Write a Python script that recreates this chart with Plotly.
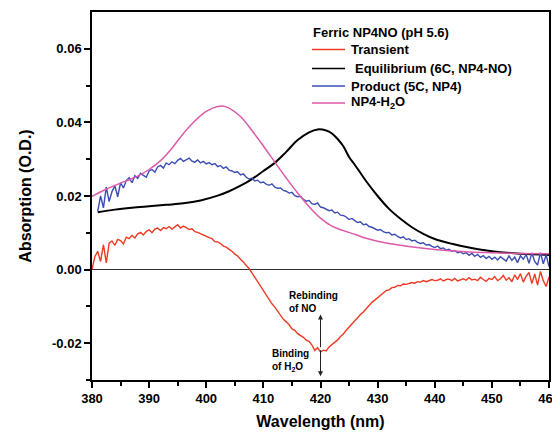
import numpy as np
import plotly.graph_objects as go

# ---------------- data ----------------
# Transient, 380-460 nm every 0.5 nm
transient = [
    0.0000, 0.0035, 0.0050, 0.0022, 0.0068, 0.0018, 0.0072, 0.0078, 0.0066, 0.0082,
    0.0079, 0.0070, 0.0088, 0.0084, 0.0093, 0.0086, 0.0097, 0.0101, 0.0094, 0.0104,
    0.0108, 0.0100, 0.0110, 0.0113, 0.0106, 0.0114, 0.0111, 0.0117, 0.0110, 0.0116,
    0.0122, 0.0113, 0.0118, 0.0114, 0.0109, 0.0111, 0.0103, 0.0101, 0.0097, 0.0095,
    0.0089, 0.0087, 0.0084, 0.0076, 0.0075, 0.0071, 0.0064, 0.0061, 0.0055, 0.0050,
    0.0042, 0.0037, 0.0028, 0.0021, 0.0011, 0.0003, -0.0009, -0.0021, -0.0034, -0.0044,
    -0.0059, -0.0068, -0.0081, -0.0093, -0.0102, -0.0114, -0.0123, -0.0135, -0.0142, -0.0150,
    -0.0161, -0.0165, -0.0174, -0.0179, -0.0184, -0.0192, -0.0195, -0.0205, -0.0220, -0.0212,
    -0.0224, -0.0219, -0.0221, -0.0210, -0.0204, -0.0198, -0.0191, -0.0182, -0.0175, -0.0165,
    -0.0156, -0.0148, -0.0138, -0.0132, -0.0122, -0.0115, -0.0106, -0.0098, -0.0089, -0.0083,
    -0.0076, -0.0069, -0.0064, -0.0057, -0.0055, -0.0049, -0.0048, -0.0043, -0.0044, -0.0039,
    -0.0040, -0.0038, -0.0035, -0.0037, -0.0033, -0.0034, -0.0030, -0.0033, -0.0031, -0.0027,
    -0.0030, -0.0029, -0.0025, -0.0031, -0.0027, -0.0026, -0.0030, -0.0024, -0.0031, -0.0027,
    -0.0025, -0.0029, -0.0022, -0.0028, -0.0026, -0.0030, -0.0021, -0.0027, -0.0032, -0.0024,
    -0.0027, -0.0019, -0.0030, -0.0025, -0.0016, -0.0029, -0.0022, -0.0033, -0.0014, -0.0027,
    -0.0011, -0.0034, -0.0018, -0.0008, -0.0038, -0.0012, -0.0042, -0.0005, -0.0030, -0.0046,
    -0.0020,
]
wl_transient = np.arange(380.0, 460.01, 0.5)

# Product (5C, NP4), 381-460 nm every 0.5 nm
product = [
    0.0158, 0.0200, 0.0168, 0.0224, 0.0185, 0.0212, 0.0228, 0.0198, 0.0236, 0.0222,
    0.0242, 0.0250, 0.0236, 0.0255, 0.0248, 0.0262, 0.0256, 0.0251, 0.0268, 0.0272,
    0.0265, 0.0279, 0.0283, 0.0276, 0.0290, 0.0285, 0.0293, 0.0288, 0.0297, 0.0302,
    0.0294, 0.0299, 0.0303, 0.0295, 0.0292, 0.0298, 0.0290, 0.0294, 0.0287, 0.0291,
    0.0285, 0.0288, 0.0280, 0.0283, 0.0275, 0.0279, 0.0270, 0.0268, 0.0264, 0.0266,
    0.0257, 0.0260, 0.0251, 0.0246, 0.0249, 0.0241, 0.0243, 0.0236, 0.0238, 0.0232,
    0.0229, 0.0233, 0.0224, 0.0221, 0.0222, 0.0215, 0.0213, 0.0208, 0.0210, 0.0201,
    0.0198, 0.0199, 0.0191, 0.0186, 0.0188, 0.0179, 0.0177, 0.0181, 0.0170, 0.0168,
    0.0165, 0.0160, 0.0162, 0.0154, 0.0156, 0.0148, 0.0147, 0.0143, 0.0136, 0.0139,
    0.0133, 0.0128, 0.0130, 0.0122, 0.0124, 0.0117, 0.0115, 0.0112, 0.0107, 0.0109,
    0.0103, 0.0100, 0.0101, 0.0094, 0.0096, 0.0090, 0.0086, 0.0089, 0.0082, 0.0084,
    0.0078, 0.0080, 0.0074, 0.0071, 0.0073, 0.0067, 0.0068, 0.0063, 0.0060, 0.0064,
    0.0057, 0.0059, 0.0053, 0.0055, 0.0049, 0.0052, 0.0046, 0.0048, 0.0043, 0.0046,
    0.0039, 0.0044, 0.0036, 0.0041, 0.0033, 0.0038, 0.0030, 0.0036, 0.0028, 0.0034,
    0.0026, 0.0035, 0.0030, 0.0023, 0.0037, 0.0025, 0.0034, 0.0019, 0.0038, 0.0028,
    0.0041, 0.0017, 0.0045, 0.0022, 0.0012, 0.0046, 0.0016, 0.0040, 0.0008,
]
wl_product = np.arange(381.0, 460.01, 0.5)

wl_equilibrium = [381, 384, 387, 390, 393, 396, 399, 402, 404, 406, 408, 410, 412, 414,
                  416, 418, 419.5, 421, 422, 423, 424, 425, 426, 428, 430, 432, 434,
                  436, 438, 440, 443, 446, 450, 455, 460]
equilibrium = [0.0156, 0.0163, 0.0168, 0.0172, 0.0176, 0.0180, 0.0188, 0.0201, 0.0213,
               0.0228, 0.0246, 0.0268, 0.0290, 0.0320, 0.0352, 0.0373, 0.0381, 0.0378,
               0.0370, 0.0355, 0.0335, 0.0306, 0.0285, 0.0240, 0.0200, 0.0165, 0.0138,
               0.0115, 0.0097, 0.0083, 0.0070, 0.0060, 0.0050, 0.0043, 0.0040]

wl_h2o = [380, 382, 384, 386, 388, 390, 392, 394, 396, 398, 400, 402, 403, 404, 406,
          408, 410, 412, 414, 416, 418, 420, 422, 424, 426, 428, 430, 434, 438, 442,
          446, 450, 455, 460]
h2o = [0.0199, 0.0215, 0.0229, 0.0241, 0.0254, 0.0272, 0.0296, 0.0330, 0.0370, 0.0404,
       0.0430, 0.0443, 0.0444, 0.0439, 0.0416, 0.0378, 0.0336, 0.0292, 0.0249, 0.0208,
       0.0171, 0.0140, 0.0118, 0.0106, 0.0096, 0.0085, 0.0077, 0.0066, 0.0058, 0.0052,
       0.0048, 0.0046, 0.0044, 0.0043]

series_names = ["Transient", "Equilibrium (6C, NP4-NO)", "Product (5C, NP4)", "NP4-H<sub>2</sub>O"]
legend_title = "Ferric NP4NO (pH 5.6)"
x_ticks = [380, 390, 400, 410, 420, 430, 440, 450, 460]
y_ticks = [-0.02, 0.00, 0.02, 0.04, 0.06]
y_tick_labels = ["-0.02", "0.00", "0.02", "0.04", "0.06"]

assert len(transient) == len(wl_transient)
assert len(product) == len(wl_product)

# ---------------- figure ----------------
FONT = "Liberation Sans, Arial, sans-serif"
RED = "#ee3a22"
BLUE = "#3a4db5"
PINK = "#dd5aaa"
COLORS = [RED, "black", BLUE, PINK]

# the page body has an 8px margin, so the figure is 8px smaller each way
W, H = 552, 424
ML, MR, MT, MB = 84, 11, 4, 52
PW, PH = W - ML - MR, H - MT - MB
PAGE_L, PAGE_T = 92, 12  # plot-area corner in page pixels


def px(xp):
    return (xp - PAGE_L) / PW


def py(yp):
    return 1 - (yp - PAGE_T) / PH


fig = go.Figure()
fig.add_trace(go.Scatter(x=wl_transient, y=transient, mode="lines",
                         name=series_names[0], line=dict(color=RED, width=1.4)))
fig.add_trace(go.Scatter(x=wl_equilibrium, y=equilibrium, mode="lines",
                         name=series_names[1],
                         line=dict(color="black", width=2, shape="spline")))
fig.add_trace(go.Scatter(x=wl_product, y=product, mode="lines",
                         name=series_names[2], line=dict(color=BLUE, width=1.4)))
fig.add_trace(go.Scatter(x=wl_h2o, y=h2o, mode="lines",
                         name=series_names[3],
                         line=dict(color=PINK, width=1.5, shape="spline")))

axis_common = dict(
    showline=True, linecolor="black", linewidth=1.5, mirror=True,
    ticks="outside", ticklen=6, tickwidth=1.5, tickcolor="black",
    showgrid=False, automargin=False,
    tickfont=dict(family=FONT, size=13, color="black", weight="bold"),
)

fig.update_xaxes(
    range=[380, 460], tickvals=x_ticks,
    minor=dict(dtick=5, ticks="outside", ticklen=4, tickwidth=1.5, tickcolor="black"),
    title=dict(text="Wavelength (nm)", font=dict(family=FONT, size=16, color="black", weight="bold"),
               standoff=10),
    zeroline=False,
    **axis_common,
)
fig.update_yaxes(
    range=[-0.03, 0.07], tickvals=y_ticks, ticktext=y_tick_labels,
    ticksuffix="\u00a0\u00a0",
    minor=dict(tickvals=[-0.03, -0.01, 0.01, 0.03, 0.05], ticks="outside", ticklen=4,
               tickwidth=1.5, tickcolor="black"),
    title=dict(text="Absorption (O.D.)", font=dict(family=FONT, size=16, color="black", weight="bold"),
               standoff=16),
    zeroline=True, zerolinecolor="#333333", zerolinewidth=1,
    **axis_common,
)

# annotations
ann_font = dict(family=FONT, size=10, color="black", weight="bold")
fig.add_annotation(x=414.1, y=-0.0088, xref="x", yref="y", text="Rebinding<br>of NO",
                   showarrow=False, xanchor="left", yanchor="middle", align="left", font=ann_font)
fig.add_annotation(x=411.1, y=-0.0246, xref="x", yref="y", text="Binding<br>of H<sub>2</sub>O",
                   showarrow=False, xanchor="left", yanchor="middle", align="left", font=ann_font)
fig.add_annotation(x=420, y=-0.0122, ax=420, ay=-0.0215, xref="x", yref="y",
                   axref="x", ayref="y", text="", showarrow=True, arrowhead=2,
                   arrowsize=1, arrowwidth=1, arrowcolor="#222222")
fig.add_annotation(x=420, y=-0.0290, ax=420, ay=-0.0215, xref="x", yref="y",
                   axref="x", ayref="y", text="", showarrow=True, arrowhead=2,
                   arrowsize=1, arrowwidth=1, arrowcolor="#222222")

# hand-placed legend (matches reference spacing)
leg_font = dict(family=FONT, size=13, color="black", weight="bold")
fig.add_annotation(x=px(311), y=py(32), xref="paper", yref="paper", text=legend_title,
                   showarrow=False, xanchor="left", yanchor="middle", font=leg_font)
leg_rows = [49.5, 68.5, 86.0, 103.0]
leg_text_x = [349, 353, 349, 349]
for name, col, yr, tx in zip(series_names, COLORS, leg_rows, leg_text_x):
    fig.add_shape(type="line", xref="paper", yref="paper",
                  x0=px(312), x1=px(345), y0=py(yr), y1=py(yr),
                  line=dict(color=col, width=1.5))
    fig.add_annotation(x=px(tx), y=py(yr), xref="paper", yref="paper", text=name,
                       showarrow=False, xanchor="left", yanchor="middle", font=leg_font)

fig.update_layout(
    width=W, height=H,
    margin=dict(l=ML, r=MR, t=MT, b=MB),
    paper_bgcolor="white", plot_bgcolor="white",
    font=dict(family=FONT, color="black"),
    showlegend=False,
)

fig.write_html("out.html")
